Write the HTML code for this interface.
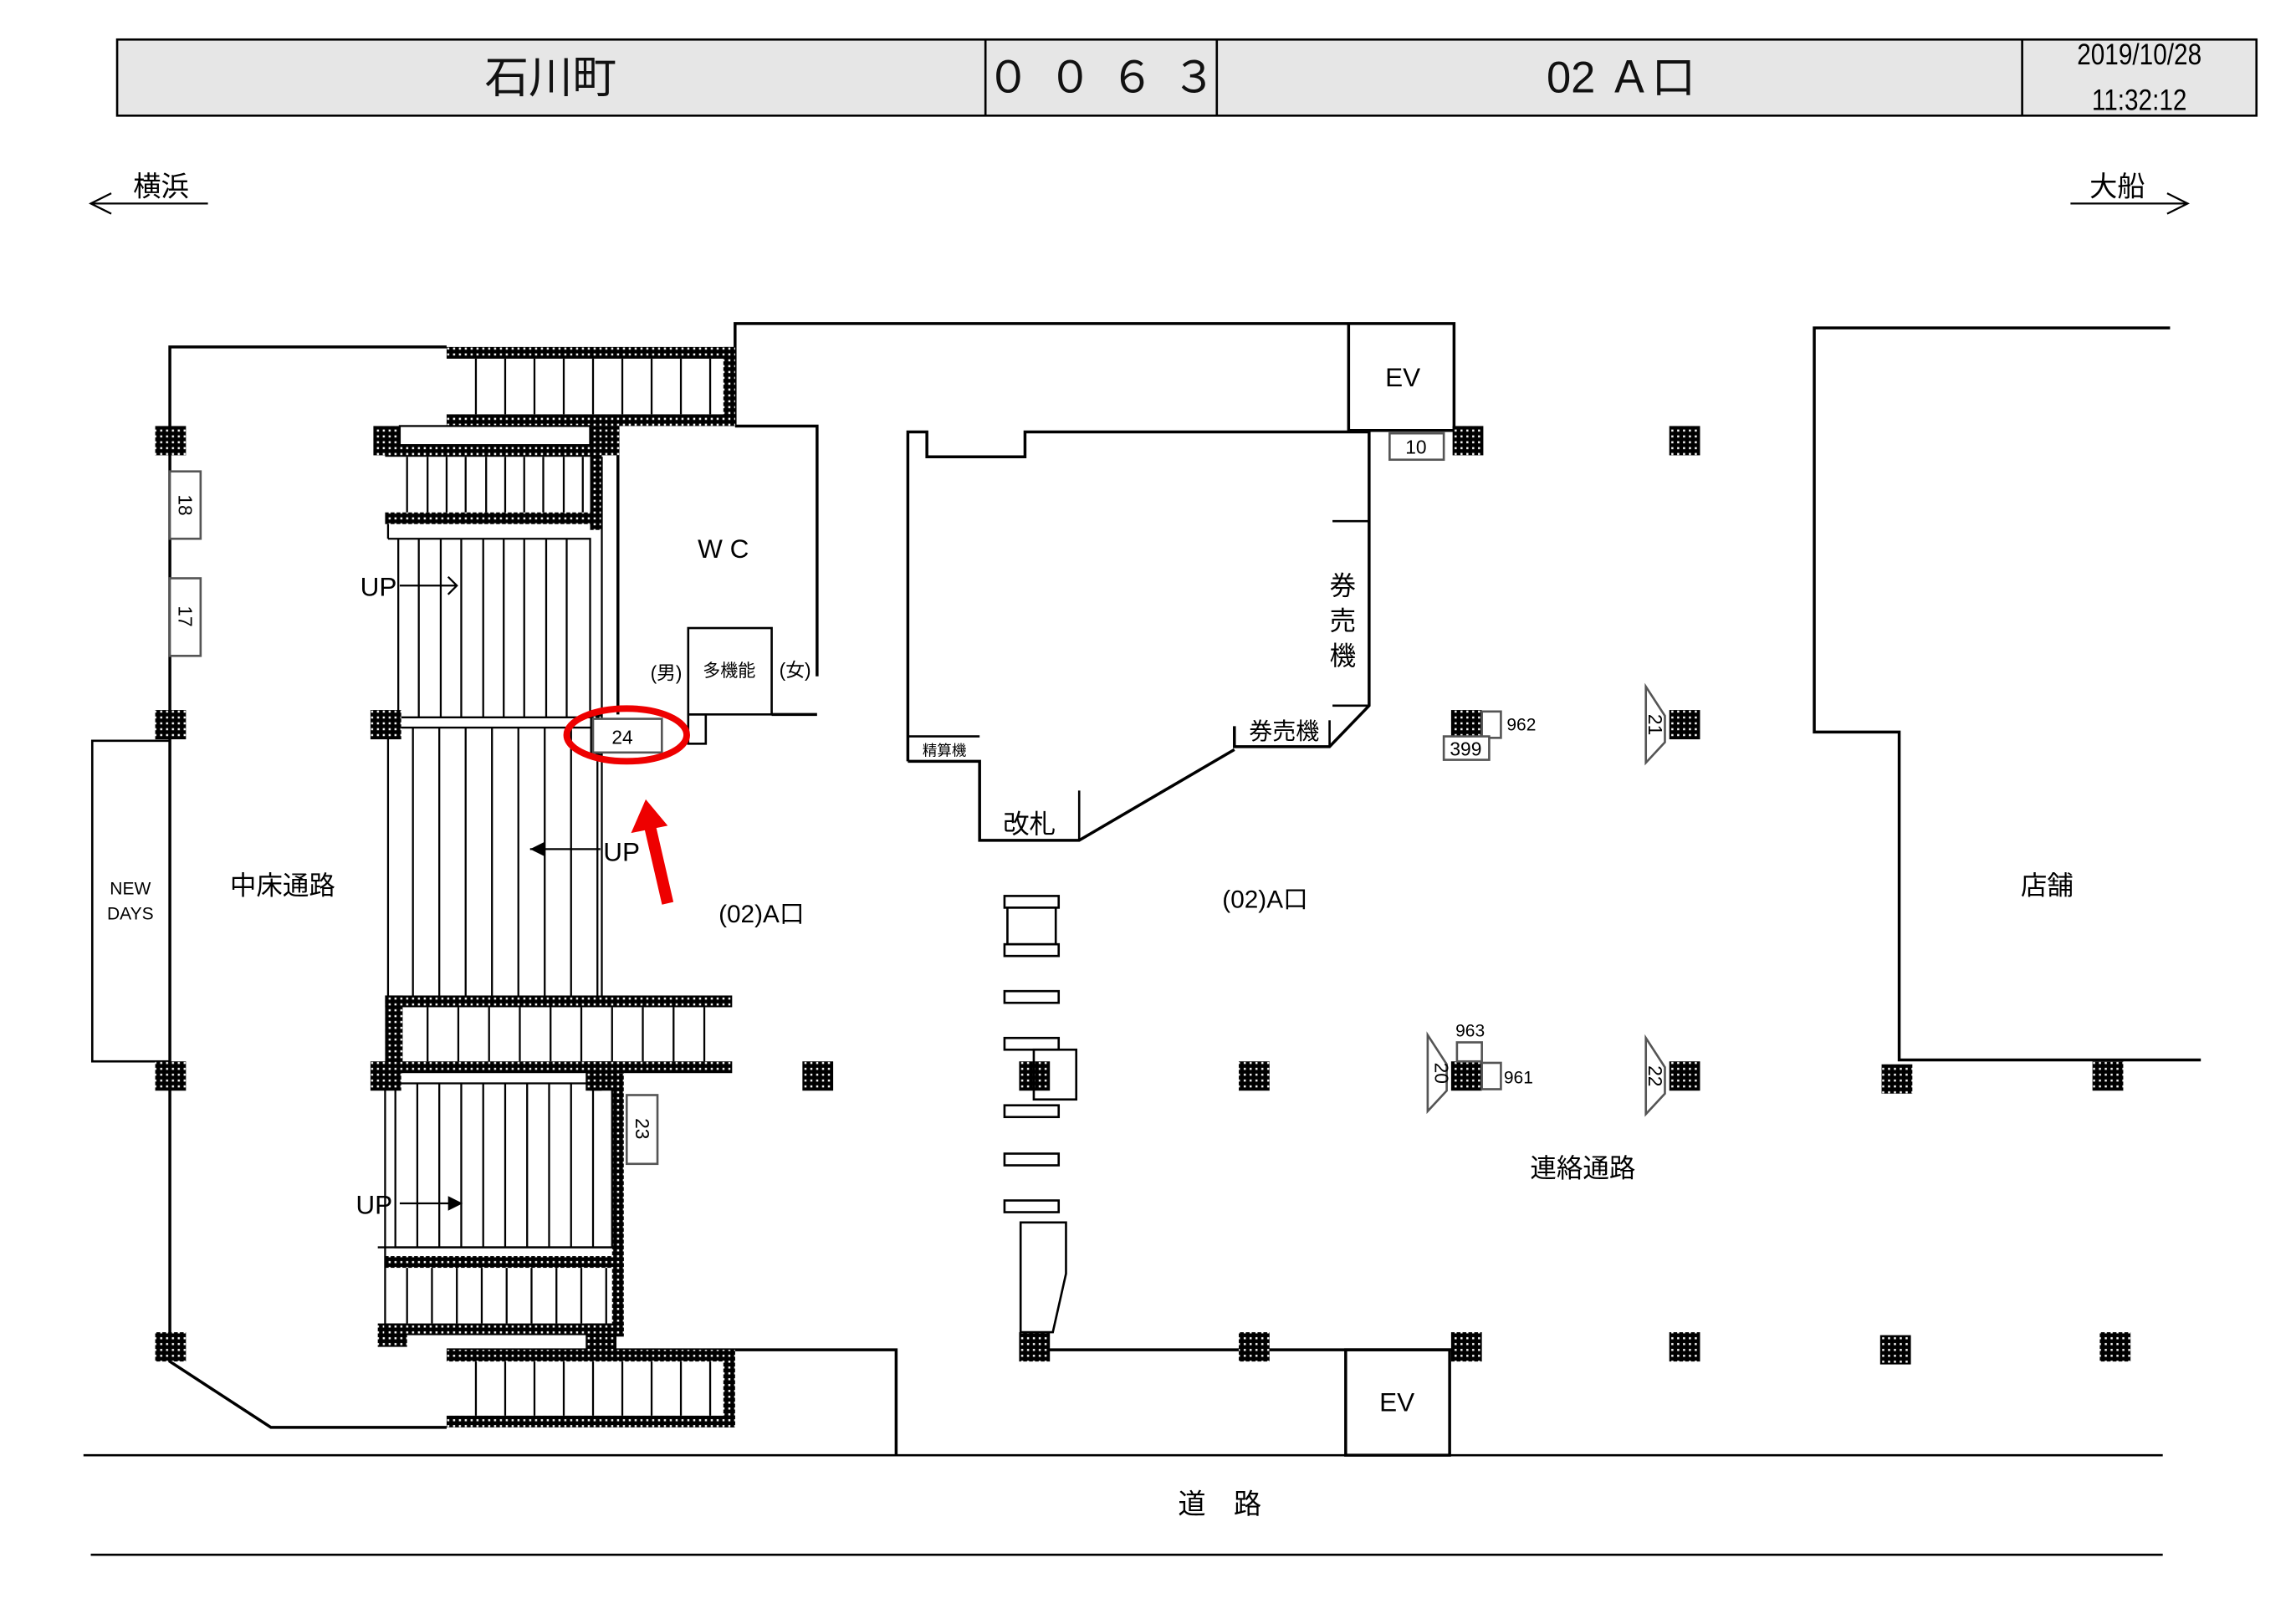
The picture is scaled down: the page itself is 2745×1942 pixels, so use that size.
<!DOCTYPE html>
<html><head><meta charset="utf-8"><style>html,body{margin:0;padding:0;background:#fff}svg{display:block}</style></head><body>
<svg width="2745" height="1942" viewBox="0 0 1568 1109.3" preserveAspectRatio="none" xmlns="http://www.w3.org/2000/svg" font-family="Liberation Sans, Noto Sans CJK JP, sans-serif">
<defs>
<pattern id="h" width="4" height="4" patternUnits="userSpaceOnUse"><rect width="4" height="4" fill="#000"/><rect x="1.4" y="1.4" width="1.4" height="1.4" fill="#fff"/></pattern>
</defs>
<rect width="1568" height="1109.3" fill="#fff"/>
<!-- header -->
<rect x="80" y="27" width="1461" height="52" fill="#e6e6e6" stroke="#000" stroke-width="1.5"/>
<g stroke="#000" stroke-width="1.5"><line x1="673" y1="27" x2="673" y2="79"/><line x1="831" y1="27" x2="831" y2="79"/><line x1="1381" y1="27" x2="1381" y2="79"/></g>
<g font-size="30" text-anchor="middle" fill="#111">
<text x="376" y="63">石川町</text>
<text x="753" y="63" letter-spacing="2">０ ０ ６ ３</text>
<text x="1107" y="63">02 Ａ口</text>
</g>
<text x="1461" y="44" font-size="20" text-anchor="middle" transform="translate(1461,0) scale(0.85,1) translate(-1461,0)">2019/10/28</text>
<text x="1461" y="75" font-size="20" text-anchor="middle" transform="translate(1461,0) scale(0.85,1) translate(-1461,0)">11:32:12</text>
<!-- direction arrows -->
<g stroke="#000" stroke-width="1.3" fill="none">
<line x1="62" y1="139" x2="142" y2="139"/><polyline points="76,132 62,139 76,146"/>
<line x1="1414" y1="139" x2="1494" y2="139"/><polyline points="1480,132 1494,139 1480,146"/>
</g>
<text x="110" y="134" font-size="19" text-anchor="middle">横浜</text>
<text x="1446" y="134" font-size="19" text-anchor="middle">大船</text>

<g stroke="#000" stroke-width="2" fill="none">
<polyline points="305,237 116,237 116,930 185,975 305,975"/>
<polyline points="502,291 502,221 993,221 993,294 921,294 921,221"/>
<polyline points="502,291 558,291 558,462"/>
<line x1="422" y1="291" x2="422" y2="488"/>
<line x1="527" y1="488" x2="558" y2="488"/>
<rect x="470" y="429" width="57" height="59" stroke-width="1.5"/>
<rect x="470" y="488" width="12" height="20" stroke-width="1.5"/>
<polyline points="620,520 620,295 633,295 633,312 700,312 700,295 935,295 935,482 908,510 843,510 843,496"/>
<polyline points="843,512 737,574 669,574 669,520 620,520"/>
<line x1="669" y1="503" x2="620" y2="503" stroke-width="1.5"/>
<line x1="737" y1="574" x2="737" y2="540" stroke-width="1.5"/>
<line x1="910" y1="356" x2="935" y2="356" stroke-width="1.5"/>
<line x1="910" y1="482" x2="935" y2="482" stroke-width="1.5"/>
<line x1="908" y1="510" x2="908" y2="492" stroke-width="1.5"/>
<polyline points="1482,224 1239,224 1239,500 1297,500 1297,724 1503,724"/>
<polyline points="305,922 612,922 612,994"/>
<line x1="706" y1="922" x2="1002" y2="922"/>
<rect x="919" y="922" width="71" height="72"/>
<line x1="57" y1="994" x2="1477" y2="994" stroke-width="1.5"/>
<line x1="62" y1="1062" x2="1477" y2="1062" stroke-width="1.5"/>
<rect x="63" y="506" width="53" height="219" stroke-width="1.5"/>
</g>

<g fill="url(#h)">
<rect x="305" y="237" width="197" height="8"/><rect x="305" y="283" width="197" height="8"/><rect x="494" y="237" width="8" height="54"/>
<rect x="255" y="291" width="18" height="20"/><rect x="263" y="304" width="148" height="8"/><rect x="403" y="291" width="20" height="20"/><rect x="403" y="304" width="8" height="58"/><rect x="263" y="350" width="148" height="8"/>
<rect x="263" y="680" width="237" height="8"/><rect x="263" y="725" width="237" height="8"/><rect x="263" y="680" width="12" height="53"/>
<rect x="403" y="733" width="8" height="12"/><rect x="418" y="733" width="8" height="180"/>
<rect x="263" y="858" width="163" height="8"/><rect x="263" y="904" width="163" height="8"/><rect x="258" y="904" width="20" height="16"/>
<rect x="305" y="922" width="197" height="8"/><rect x="305" y="967" width="197" height="8"/><rect x="494" y="922" width="8" height="53"/>
<rect x="403" y="488" width="8" height="30"/>
</g>
<g stroke="#000" stroke-width="1.3" fill="none">
<rect x="273" y="291" width="130" height="13"/>
<path d="M325,245V283M345,245V283M365,245V283M385,245V283M405,245V283M425,245V283M445,245V283M465,245V283M485,245V283"/>
<path d="M278,312V350M292,312V350M305,312V350M318,312V350M332,312V350M345,312V350M358,312V350M371,312V350M385,312V350M398,312V350"/>
<polyline points="265,368 403,368 403,490"/>
<line x1="265" y1="358" x2="265" y2="368"/>
<path d="M272,368V490M286,368V490M301,368V490M315,368V490M330,368V490M344,368V490M358,368V490M373,368V490M387,368V490"/>
<line x1="411" y1="312" x2="411" y2="680"/>
<line x1="263" y1="490" x2="403" y2="490"/><line x1="263" y1="497" x2="403" y2="497"/>
<path d="M265,497V680M282,497V680M300,497V680M318,497V680M336,497V680M354,497V680M372,497V680M390,497V680M408,497V680"/>
<path d="M292,688V725M313,688V725M334,688V725M355,688V725M376,688V725M397,688V725M418,688V725M439,688V725M460,688V725M481,688V725"/>
<rect x="270" y="740" width="148" height="112"/>
<path d="M285,740V852M300,740V852M315,740V852M330,740V852M345,740V852M360,740V852M375,740V852M390,740V852M405,740V852"/>
<line x1="258" y1="852" x2="418" y2="852"/>
<path d="M278,866V904M295,866V904M312,866V904M329,866V904M346,866V904M363,866V904M380,866V904M397,866V904M414,866V904"/>
<path d="M325,930V967M345,930V967M365,930V967M385,930V967M405,930V967M425,930V967M445,930V967M465,930V967M485,930V967"/>
<line x1="263" y1="733" x2="263" y2="913"/>
<line x1="273" y1="400" x2="312" y2="400"/><polyline points="306,394 312,400 306,406"/>
<line x1="410" y1="580" x2="362" y2="580"/>
<line x1="273" y1="822" x2="312" y2="822"/>
</g>
<polygon points="362,580 372,575 372,585" fill="#000"/>
<polygon points="316,822 306,817 306,827" fill="#000"/>
<g font-size="18" fill="#000">
<text x="246" y="407">UP</text><text x="412" y="588">UP</text><text x="243" y="829">UP</text>
</g>

<g fill="url(#h)">
<rect x="106" y="291" width="21" height="20"/><rect x="106" y="485" width="21" height="20"/><rect x="106" y="725" width="21" height="20"/><rect x="106" y="910" width="21" height="20"/>
<rect x="253" y="485" width="21" height="20"/><rect x="253" y="725" width="21" height="20"/>
<rect x="400" y="725" width="21" height="20"/><rect x="400" y="904" width="21" height="20"/>
<rect x="548" y="725" width="21" height="20"/><rect x="696" y="725" width="21" height="20"/><rect x="696" y="910" width="21" height="20"/>
<rect x="846" y="725" width="21" height="20"/><rect x="846" y="910" width="21" height="20"/>
<rect x="992" y="291" width="21" height="20"/><rect x="991" y="485" width="21" height="18"/><rect x="991" y="725" width="21" height="20"/><rect x="991" y="910" width="21" height="20"/>
<rect x="1140" y="291" width="21" height="20"/><rect x="1140" y="485" width="21" height="20"/><rect x="1140" y="725" width="21" height="20"/><rect x="1140" y="910" width="21" height="20"/>
<rect x="1285" y="727" width="21" height="20"/><rect x="1284" y="912" width="21" height="20"/><rect x="1429" y="725" width="21" height="20"/><rect x="1434" y="910" width="21" height="20"/>
</g>

<g stroke="#555" stroke-width="1.5" fill="#fff">
<rect x="116" y="322" width="21" height="46"/><rect x="116" y="395" width="21" height="53"/>
<rect x="428" y="748" width="21" height="47"/>
<rect x="949" y="296" width="37" height="18"/>
<rect x="405" y="491" width="47" height="23"/>
<rect x="1012" y="486" width="13" height="18"/><rect x="986" y="503" width="31" height="16"/>
<polygon points="1124,469 1137,489 1137,507 1124,521"/>
<rect x="995" y="712" width="17" height="13"/><rect x="1012" y="726" width="13" height="18"/>
<polygon points="975,707 988,727 988,745 975,759"/>
<polygon points="1124,709 1137,729 1137,747 1124,761"/>
</g>
<g font-size="13" fill="#000" text-anchor="middle">
<text x="425" y="508">24</text><text x="967" y="310">10</text><text x="1001" y="516">399</text>
<text x="1004" y="708" font-size="12">963</text>
<text x="1039" y="499" font-size="12">962</text><text x="1037" y="740" font-size="12">961</text>
<text transform="translate(122,345) rotate(90)" text-anchor="middle">18</text>
<text transform="translate(122,421) rotate(90)" text-anchor="middle">17</text>
<text transform="translate(434,771) rotate(90)" text-anchor="middle">23</text>
<text transform="translate(1126,495) rotate(90)" text-anchor="middle">21</text>
<text transform="translate(980,733) rotate(90)" text-anchor="middle">20</text>
<text transform="translate(1126,735) rotate(90)" text-anchor="middle">22</text>
</g>

<g stroke="#000" stroke-width="1.5" fill="#fff">
<rect x="686" y="612" width="37" height="8"/><rect x="688" y="620" width="33" height="25"/><rect x="686" y="645" width="37" height="8"/>
<rect x="686" y="677" width="37" height="8"/><rect x="686" y="709" width="37" height="8"/>
<rect x="706" y="717" width="29" height="34" fill="none"/>
<rect x="686" y="755" width="37" height="8"/><rect x="686" y="788" width="37" height="8"/><rect x="686" y="820" width="37" height="8"/>
<polygon points="697,835 728,835 728,870 719,910 697,910"/>
</g>

<g fill="#000">
<text x="494" y="381" font-size="18" text-anchor="middle">W C</text>
<text x="455" y="464" font-size="13" text-anchor="middle">(男)</text>
<text x="498" y="462" font-size="12" text-anchor="middle">多機能</text>
<text x="543" y="462" font-size="13" text-anchor="middle">(女)</text>
<text x="958" y="264" font-size="18" text-anchor="middle">EV</text>
<text x="954" y="964" font-size="18" text-anchor="middle">EV</text>
<text x="917" y="406" font-size="18" text-anchor="middle">券</text>
<text x="917" y="430" font-size="18" text-anchor="middle">売</text>
<text x="917" y="454" font-size="18" text-anchor="middle">機</text>
<text x="877" y="505" font-size="16" text-anchor="middle">券売機</text>
<text x="645" y="516" font-size="10" text-anchor="middle">精算機</text>
<text x="703" y="569" font-size="18" text-anchor="middle">改札</text>
<text x="520" y="630" font-size="17" text-anchor="middle">(02)A口</text>
<text x="864" y="620" font-size="17" text-anchor="middle">(02)A口</text>
<text x="193" y="611" font-size="18" text-anchor="middle">中床通路</text>
<text x="89" y="611" font-size="12" text-anchor="middle">NEW</text>
<text x="89" y="628" font-size="12" text-anchor="middle">DAYS</text>
<text x="1398" y="611" font-size="18" text-anchor="middle">店舗</text>
<text x="1081" y="804" font-size="18" text-anchor="middle">連絡通路</text>
<text x="833" y="1034" font-size="19" text-anchor="middle">道　路</text>
</g>

<ellipse cx="428" cy="502" rx="41" ry="18" fill="none" stroke="#e00" stroke-width="4.5"/>
<line x1="456" y1="617" x2="444" y2="565" stroke="#e00" stroke-width="8"/>
<polygon points="441,546 431,569 456,564" fill="#e00"/>
</svg>
</body></html>
